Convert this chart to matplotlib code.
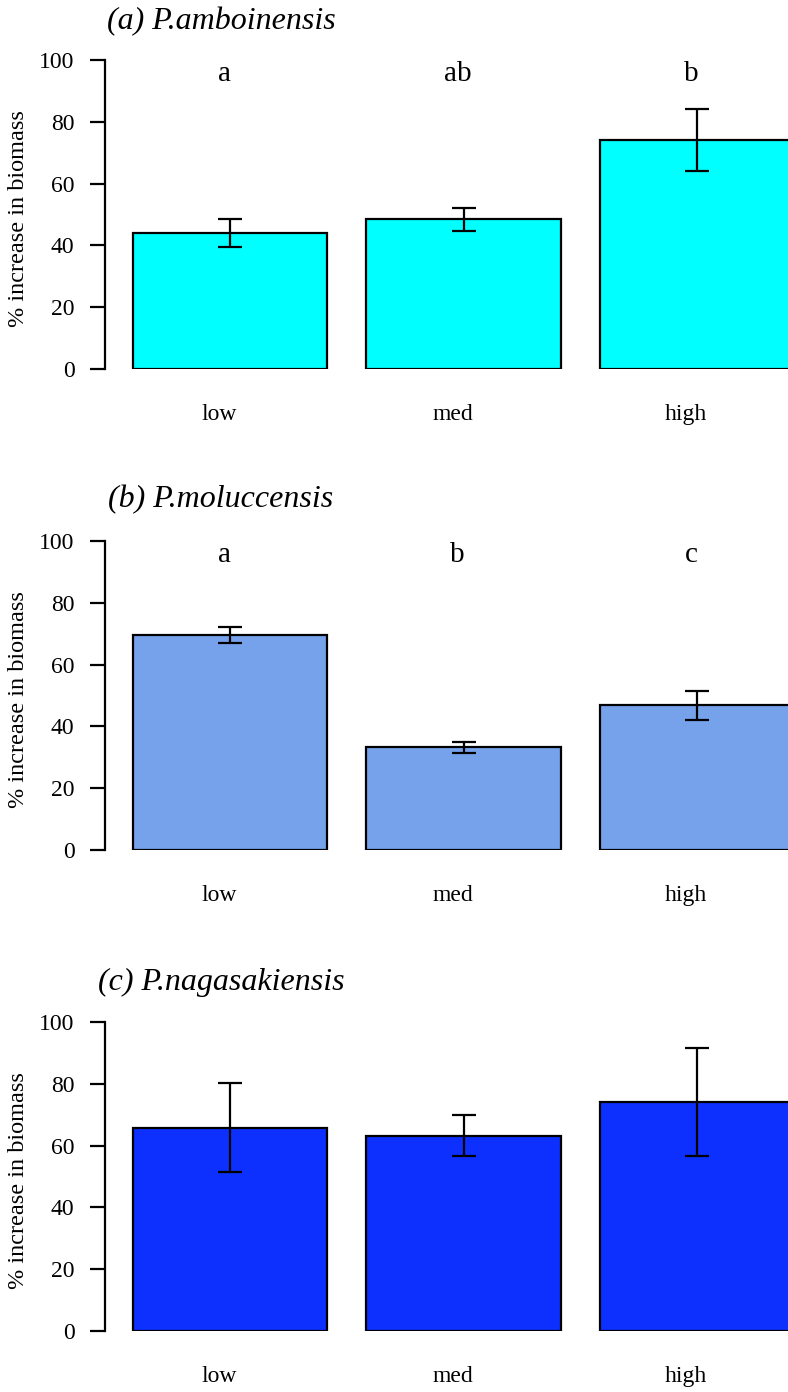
import matplotlib
matplotlib.use("Agg")
import matplotlib.pyplot as plt
import numpy as np

plt.rcParams['font.family'] = ['Liberation Serif', 'DejaVu Serif']

categories = ["low", "med", "high"]
titles = ["(a) P.amboinensis", "(b) P.moluccensis", "(c) P.nagasakiensis"]
means_a = [44.0, 48.4, 74.1]
errs_a = [4.6, 3.7, 10.0]
means_b = [69.6, 33.2, 46.8]
errs_b = [2.6, 1.8, 4.8]
means_c = [65.7, 63.2, 74.1]
errs_c = [14.4, 6.6, 17.5]
letters_a = ["a", "ab", "b"]
letters_b = ["a", "b", "c"]
letters_c = ["", "", ""]
colors = ["#00FFFF", "#76A2EC", "#0D30FF"]
yticks = [0, 20, 40, 60, 80, 100]

W, H = 788, 1392
fig = plt.figure(figsize=(W / 100, H / 100), dpi=100)

panels = [
    (means_a, errs_a, letters_a, 369, 22),
    (means_b, errs_b, letters_b, 850, 500),
    (means_c, errs_c, letters_c, 1331, 982),
]

x = np.arange(len(categories))
bar_w = 1 / 1.2
px_per_unit = 233.5
ax_left_px = 105
x_min = -(230 - ax_left_px) / px_per_unit
x_max = x_min + (W - ax_left_px) / px_per_unit

for i, (means, errs, letters, base_px, title_px) in enumerate(panels):
    ax_h_px = 309
    ax = fig.add_axes([ax_left_px / W, (H - base_px) / H, (W - ax_left_px) / W, ax_h_px / H])
    ax.bar(x, means, width=bar_w, color=colors[i], edgecolor="black", linewidth=1.6, zorder=2)
    ax.errorbar(x, means, yerr=errs, fmt="none", ecolor="black", elinewidth=1.6,
                capsize=8.5, capthick=1.6, zorder=3)
    ax.set_xlim(x_min, x_max)
    ax.set_ylim(0, 100)
    for s in ["top", "right", "bottom"]:
        ax.spines[s].set_visible(False)
    ax.spines["left"].set_linewidth(1.6)
    ax.spines["left"].set_bounds(0, 100)
    ax.set_yticks(yticks)
    ax.set_yticklabels([str(t) for t in yticks], fontsize=17)
    ax.tick_params(axis="y", length=11, width=1.6, pad=11)
    ax.set_xticks(x - 0.047)
    ax.set_xticklabels(categories, fontsize=17)
    ax.tick_params(axis="x", length=0, pad=25)
    for j, lab in enumerate(letters):
        if lab:
            ax.text(x[j] - 0.025, 95.5, lab, ha="center", va="center", fontsize=21)
    fig.text(221 / W, 1 - title_px / H, titles[i], ha="center", va="center",
             fontsize=23, style="italic")
    fig.text(19 / W, 1 - (base_px - 150) / H, "% increase in biomass", rotation=90,
             ha="center", va="center", fontsize=17.5)

fig.savefig("out.png", dpi=100)
